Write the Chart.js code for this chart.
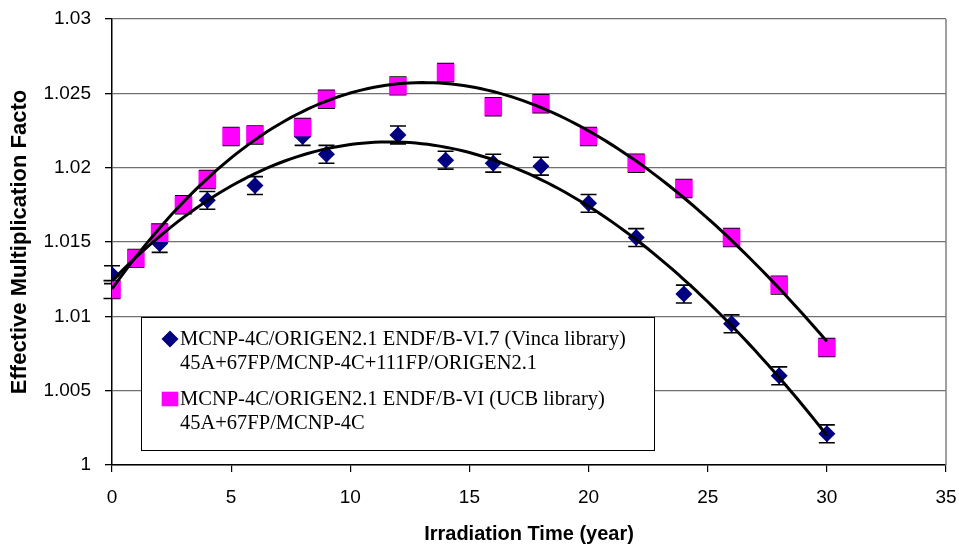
<!DOCTYPE html>
<html>
<head>
<meta charset="utf-8">
<script src="https://cdn.jsdelivr.net/npm/chart.js@4.4.1/dist/chart.umd.min.js"></script>
<style>
  html, body { margin: 0; padding: 0; background: #ffffff; }
  #wrap { width: 959px; height: 547px; }
</style>
</head>
<body>
<div id="wrap"><canvas id="chart" width="959" height="547"></canvas></div>
<script>
// Irradiation time (years) and effective multiplication factor per calculation route
const vincaYears = [0, 2, 4, 6, 8, 9, 12, 14, 16, 18, 20, 22, 24, 26, 28, 30];
const vincaKeff  = [1.0128, 1.0149, 1.0178, 1.0188, 1.0221, 1.0209, 1.0222, 1.0205,
                    1.0203, 1.0201, 1.0176, 1.0153, 1.0115, 1.0095, 1.0060, 1.0021];
const ucbYears   = [0, 1, 2, 3, 4, 5, 6, 8, 9, 12, 14, 16, 18, 20, 22, 24, 26, 28, 30];
const ucbKeff    = [1.0118, 1.0139, 1.0156, 1.0175, 1.0192, 1.0221, 1.0222, 1.0227, 1.0246,
                    1.0255, 1.0264, 1.0241, 1.0243, 1.0221, 1.0203, 1.0186, 1.0153, 1.0121, 1.0079];
// statistical uncertainty (one sigma) of each k-eff value
const vincaErr = 0.0006;
const ucbErr   = 0.0006;

const vincaLabel = ['MCNP-4C/ORIGEN2.1 ENDF/B-VI.7 (Vinca library)', '45A+67FP/MCNP-4C+111FP/ORIGEN2.1'];
const ucbLabel   = ['MCNP-4C/ORIGEN2.1 ENDF/B-VI (UCB library)', '45A+67FP/MCNP-4C'];

const xTickValues = [0, 5, 10, 15, 20, 25, 30, 35];
const yTickValues = [1, 1.005, 1.01, 1.015, 1.02, 1.025, 1.03];

// polynomial order of the burnup trend lines
const TREND_ORDER = 3;

// least-squares polynomial trend line through a series
function polyFit(xs, ys, deg) {
  const n = deg + 1;
  const A = Array.from({ length: n }, () => new Array(n + 1).fill(0));
  for (let k = 0; k < xs.length; k++) {
    for (let i = 0; i < n; i++) {
      for (let j = 0; j < n; j++) A[i][j] += Math.pow(xs[k], i + j);
      A[i][n] += Math.pow(xs[k], i) * (ys[k] - 1);
    }
  }
  for (let i = 0; i < n; i++) {
    let p = i;
    for (let r = i + 1; r < n; r++) if (Math.abs(A[r][i]) > Math.abs(A[p][i])) p = r;
    [A[i], A[p]] = [A[p], A[i]];
    for (let r = 0; r < n; r++) {
      if (r === i) continue;
      const f = A[r][i] / A[i][i];
      for (let c = i; c <= n; c++) A[r][c] -= f * A[i][c];
    }
  }
  return A.map((row, i) => row[n] / row[i]);
}
function trendPoints(xs, ys) {
  const coef = polyFit(xs, ys, TREND_ORDER);
  const x0 = Math.min(...xs), x1 = Math.max(...xs);
  const pts = [];
  for (let x = x0; x <= x1 + 1e-9; x += 0.25) {
    let y = 0;
    coef.forEach((c, i) => { y += c * Math.pow(x, i); });
    pts.push({ x: x, y: 1 + y });
  }
  return pts;
}

const toPoints = (xs, ys) => xs.map((x, i) => ({ x: x, y: ys[i] }));

// vertical error bars with caps, drawn beneath the markers
const errorBars = {
  id: 'errorBars',
  beforeDatasetsDraw(chart) {
    const { ctx, scales: { x, y } } = chart;
    ctx.save();
    ctx.strokeStyle = '#000000';
    ctx.lineWidth = 1.6;
    chart.data.datasets.forEach(ds => {
      if (!ds.errorBar) return;
      const half = ds.errorBar.cap / 2;
      ds.data.forEach(p => {
        const px = x.getPixelForValue(p.x);
        const top = y.getPixelForValue(p.y + ds.errorBar.err);
        const bot = y.getPixelForValue(p.y - ds.errorBar.err);
        ctx.beginPath();
        ctx.moveTo(px, top); ctx.lineTo(px, bot);
        ctx.moveTo(px - half, top); ctx.lineTo(px + half, top);
        ctx.moveTo(px - half, bot); ctx.lineTo(px + half, bot);
        ctx.stroke();
      });
    });
    ctx.restore();
  }
};

// right-hand frame line of the plot area
const plotFrame = {
  id: 'plotFrame',
  beforeDatasetsDraw(chart) {
    const { ctx, chartArea: a } = chart;
    ctx.save();
    ctx.strokeStyle = '#808080';
    ctx.lineWidth = 1.5;
    ctx.beginPath();
    ctx.moveTo(a.right, a.top);
    ctx.lineTo(a.right, a.bottom);
    ctx.stroke();
    ctx.restore();
  }
};

// boxed legend placed inside the plot area
const boxLegend = {
  id: 'boxLegend',
  afterDraw(chart) {
    const { ctx, chartArea: a } = chart;
    const left = a.left + 29, top = a.top + 298, w = 513, h = 133;
    ctx.save();
    ctx.fillStyle = '#ffffff';
    ctx.fillRect(left, top, w, h);
    ctx.strokeStyle = '#000000';
    ctx.lineWidth = 1;
    ctx.strokeRect(left + 0.5, top + 0.5, w, h);
    ctx.font = '20.5px "Liberation Serif", "Times New Roman", serif';
    ctx.textBaseline = 'alphabetic';
    ctx.textAlign = 'left';
    const entries = chart.data.datasets.filter(ds => ds.legendRank)
      .sort((p, q) => p.legendRank - q.legendRank);
    entries.forEach((ds, k) => {
      const base = top + 28 + k * 60;
      const mx = left + 29, my = base - 6;
      ctx.fillStyle = ds.backgroundColor;
      ctx.beginPath();
      if (ds.pointStyle === 'rectRot') {
        ctx.moveTo(mx, my - 8.5); ctx.lineTo(mx + 8.5, my);
        ctx.lineTo(mx, my + 8.5); ctx.lineTo(mx - 8.5, my);
        ctx.closePath();
      } else {
        ctx.rect(mx - 8.3, my - 7.3, 16.6, 14.6);
      }
      ctx.fill();
      ctx.fillStyle = '#000000';
      ds.label.split('\n').forEach((line, i) => {
        ctx.fillText(line, left + 39, base + i * 23.5);
      });
    });
    ctx.restore();
  }
};

const sansFont = '"Liberation Sans", Arial, sans-serif';

new Chart(document.getElementById('chart'), {
  type: 'scatter',
  data: {
    datasets: [
      {
        label: 'Vinca trend',
        data: trendPoints(vincaYears, vincaKeff),
        showLine: true, borderColor: '#000000', borderWidth: 3,
        pointRadius: 0, order: 0, tension: 0
      },
      {
        label: 'UCB trend',
        data: trendPoints(ucbYears, ucbKeff),
        showLine: true, borderColor: '#000000', borderWidth: 3,
        pointRadius: 0, order: 0, tension: 0
      },
      {
        label: ucbLabel.join('\n'),
        data: toPoints(ucbYears, ucbKeff),
        pointStyle: 'rect', pointRadius: 12.5,
        backgroundColor: '#ff00ff', borderColor: '#ff00ff', borderWidth: 0,
        order: 1, legendRank: 2,
        errorBar: { err: ucbErr, cap: 17 }
      },
      {
        label: vincaLabel.join('\n'),
        data: toPoints(vincaYears, vincaKeff),
        pointStyle: 'rectRot', pointRadius: 8.5,
        backgroundColor: '#000080', borderColor: '#000080', borderWidth: 0,
        order: 2, legendRank: 1,
        errorBar: { err: vincaErr, cap: 16 }
      }
    ]
  },
  options: {
    responsive: false,
    animation: false,
    devicePixelRatio: 1,
    layout: { autoPadding: false, padding: { left: 0, right: 13, top: 19, bottom: 0 } },
    plugins: {
      legend: { display: false },
      tooltip: { enabled: false }
    },
    scales: {
      x: {
        type: 'linear', min: 0, max: 35,
        afterBuildTicks: s => { s.ticks = xTickValues.map(v => ({ value: v })); },
        afterFit: s => { s.height = 82; s.paddingLeft = 0; s.paddingRight = 0; },
        ticks: { font: { family: sansFont, size: 19 }, color: '#000000', padding: 14, maxRotation: 0 },
        grid: { drawOnChartArea: false, tickLength: 7, tickColor: '#000000', color: '#000000', lineWidth: 1.2 },
        border: { color: '#000000', width: 1.5 },
        title: {
          display: true, text: 'Irradiation Time (year)', color: '#000000',
          font: { family: sansFont, size: 20, weight: 'bold' }, padding: { top: 0, bottom: 1 }
        }
      },
      y: {
        type: 'linear', min: 1, max: 1.03,
        afterBuildTicks: s => { s.ticks = yTickValues.map(v => ({ value: v })); },
        afterFit: s => { s.width = 112; s.paddingTop = 0; s.paddingBottom = 0; },
        ticks: {
          font: { family: sansFont, size: 19 }, color: '#000000', padding: 14,
          callback: v => String(Number(v.toFixed(3)))
        },
        grid: { color: '#707070', lineWidth: 1.3, tickLength: 7, tickColor: '#000000' },
        border: { color: '#000000', width: 1.5 },
        title: {
          display: true, text: 'Effective Multiplication Facto', color: '#000000',
          font: { family: sansFont, size: 22, weight: 'bold' }, padding: { top: 7, bottom: 0 }
        }
      }
    }
  },
  plugins: [errorBars, plotFrame, boxLegend]
});
</script>
</body>
</html>
